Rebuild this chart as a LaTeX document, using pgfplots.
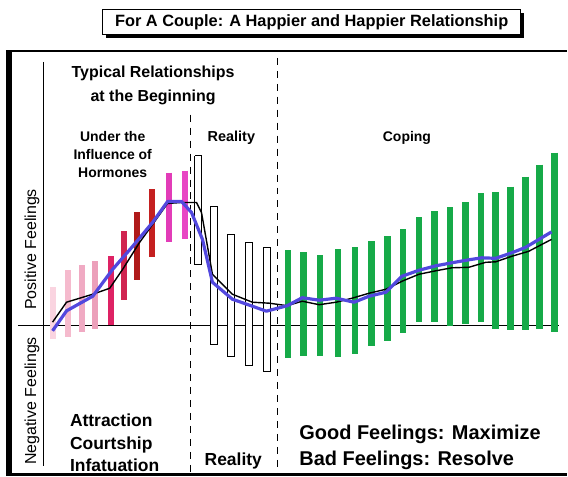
\documentclass[border=0pt]{standalone}
\usepackage{pgfplots}
\pgfplotsset{compat=1.18}
\usepackage{fontspec}
\setmainfont{Liberation Sans}
\usetikzlibrary{shadows}
\definecolor{pk1}{RGB}{250,212,224}
\definecolor{pk2}{RGB}{245,186,205}
\definecolor{pk3}{RGB}{240,170,195}
\definecolor{pk4}{RGB}{236,160,186}
\definecolor{pk5}{RGB}{222,34,100}
\definecolor{pk6}{RGB}{208,36,80}
\definecolor{pk7}{RGB}{176,26,26}
\definecolor{pk8}{RGB}{196,32,32}
\definecolor{pk9}{RGB}{226,60,184}
\definecolor{pk10}{RGB}{232,70,196}
\definecolor{grn}{RGB}{22,170,72}
\definecolor{blu}{RGB}{82,72,222}
\begin{document}
\begin{tikzpicture}
\begin{axis}[
  width=568pt, height=478pt, scale only axis,
  xmin=0, xmax=568, ymin=0, ymax=478, y dir=reverse,
  hide axis, clip=false, unbounded coords=jump,
]
\path (axis cs:0,0) rectangle (axis cs:568,478);
% frame
\fill[black] (axis cs:6,50) rectangle (axis cs:12,477);
\draw[line width=2.5pt] (axis cs:6,51) -- (axis cs:568,51);
\draw[line width=3pt] (axis cs:6,475.5) -- (axis cs:568,475.5);
% axes
\draw[line width=1.1pt] (axis cs:44,62) -- (axis cs:44,467);
\draw[line width=1.1pt] (axis cs:18,326) -- (axis cs:560,326);
% pink bars
\addplot[pk1, line width=6pt] coordinates {(52.7,288) (52.7,340)};
\addplot[pk2, line width=6pt] coordinates {(67.7,271) (67.7,338)};
\addplot[pk3, line width=6pt] coordinates {(82.3,266) (82.3,333)};
\addplot[pk4, line width=6pt] coordinates {(95.7,262) (95.7,330)};
\addplot[pk5, line width=6pt] coordinates {(111,257) (111,326)};
\addplot[pk6, line width=6pt] coordinates {(124,232) (124,301)};
\addplot[pk7, line width=6pt] coordinates {(137.7,213) (137.7,281)};
\addplot[pk8, line width=6pt] coordinates {(152.7,190) (152.7,258)};
\addplot[pk9, line width=6pt] coordinates {(169,173) (169,243)};
\addplot[pk10, line width=6pt] coordinates {(185,171) (185,240)};
% reality bars
\addplot[draw=black, fill=white, line width=1pt] coordinates {(195.5,156) (202.5,156) (202.5,265) (195.5,265) (195.5,156)};
\addplot[draw=black, fill=white, line width=1pt] coordinates {(211.5,207) (218.5,207) (218.5,345) (211.5,345) (211.5,207)};
\addplot[draw=black, fill=white, line width=1pt] coordinates {(228.5,235) (235.5,235) (235.5,357) (228.5,357) (228.5,235)};
\addplot[draw=black, fill=white, line width=1pt] coordinates {(246.5,243) (253.5,243) (253.5,366) (246.5,366) (246.5,243)};
\addplot[draw=black, fill=white, line width=1pt] coordinates {(264.5,248) (271.5,248) (271.5,372) (264.5,372) (264.5,248)};
% green bars
\addplot[grn, line width=6.5pt] coordinates {
(289,251) (289,359) (289,nan)
(304.3,253) (304.3,357) (304.3,nan)
(321,256) (321,357) (321,nan)
(339,250) (339,358) (339,nan)
(355.7,248) (355.7,355) (355.7,nan)
(372.3,242) (372.3,347) (372.3,nan)
(388.3,237) (388.3,342) (388.3,nan)
(404.3,230) (404.3,334) (404.3,nan)
(420,218) (420,323) (420,nan)
(435.7,212) (435.7,323) (435.7,nan)
(451,208) (451,327) (451,nan)
(466.7,203) (466.7,325) (466.7,nan)
(482.3,194) (482.3,323) (482.3,nan)
(496.7,193) (496.7,330) (496.7,nan)
(511.7,187) (511.7,331) (511.7,nan)
(526.7,177) (526.7,331) (526.7,nan)
(541,165) (541,330) (541,nan)
(556,153) (556,333)
};
% dashed separators
\draw[line width=1.2pt, dash pattern=on 7pt off 6pt] (axis cs:191,115) -- (axis cs:191,475);
\draw[line width=1.2pt, dash pattern=on 7pt off 6pt] (axis cs:278,58) -- (axis cs:278,475);
% average lines
\addplot[black, line width=1.4pt] coordinates {
(52.7,323) (66.7,303) (93,295) (110,289) (123,270) (140,243) (153,225) (168,204) (182,203) (197,203) (202,213) (213,275) (233,295) (253,303) (270,304) (288,306.5) (303,302) (320,305.5) (337,303) (353,299) (370,294) (387,290) (403,282) (420,275) (437,271.5) (453,268.5) (470,268) (487,263) (497,262.5) (513,257) (530,252) (553,240)};
\addplot[blu, line width=3.2pt, line join=round] coordinates {
(52.7,331.7) (66.7,311.7) (93,297) (113,270) (133,247) (153,223) (168,202) (182,202) (192,213) (203,240) (213,283) (233,300) (253,307) (267,312) (288,306.5) (303,298.5) (320,301) (337,299) (355,303) (370,297) (387,293) (403,277) (420,271) (437,266.5) (453,263.5) (470,260.5) (483,258.5) (497,259) (513,253.5) (527,248) (553,232.5)};
% title
\node[draw, line width=1pt, fill=white, minimum width=419pt, minimum height=25pt, inner sep=0pt,
  drop shadow={shadow xshift=3pt, shadow yshift=-3pt, fill=black, opacity=1},
  font=\fontsize{16.4}{19}\selectfont\bfseries] at (axis cs:312.5,22.5) {For A Couple: A Happier and Happier Relationship};
% texts
\node[align=center, font=\fontsize{16}{24}\selectfont\bfseries, anchor=base] at (axis cs:153.5,102) {Typical Relationships\\at the Beginning};
\node[align=center, font=\fontsize{14}{18}\selectfont\bfseries, anchor=base] at (axis cs:113,178) {Under the\\Influence of\\Hormones};
\node[font=\fontsize{14.5}{18}\selectfont\bfseries, anchor=base] at (axis cs:232,142) {Reality};
\node[font=\fontsize{14}{18}\selectfont\bfseries, anchor=base] at (axis cs:408,142) {Coping};
\node[rotate=90, font=\fontsize{16}{18}\selectfont] at (axis cs:32,250) {Positive Feelings};
\node[rotate=90, font=\fontsize{16}{18}\selectfont] at (axis cs:32,402) {Negative Feelings};
\node[align=left, font=\fontsize{17.5}{22.5}\selectfont\bfseries, anchor=base west, inner sep=0pt] at (axis cs:70,473) {Attraction\\Courtship\\Infatuation};
\node[font=\fontsize{17.5}{21}\selectfont\bfseries, anchor=base west, inner sep=0pt] at (axis cs:205,467) {Reality};
\node[align=left, font=\fontsize{20}{26}\selectfont\bfseries, anchor=base west, inner sep=0pt] at (axis cs:300,467) {Good Feelings: Maximize\\Bad Feelings: Resolve};
\end{axis}
\end{tikzpicture}
\end{document}
